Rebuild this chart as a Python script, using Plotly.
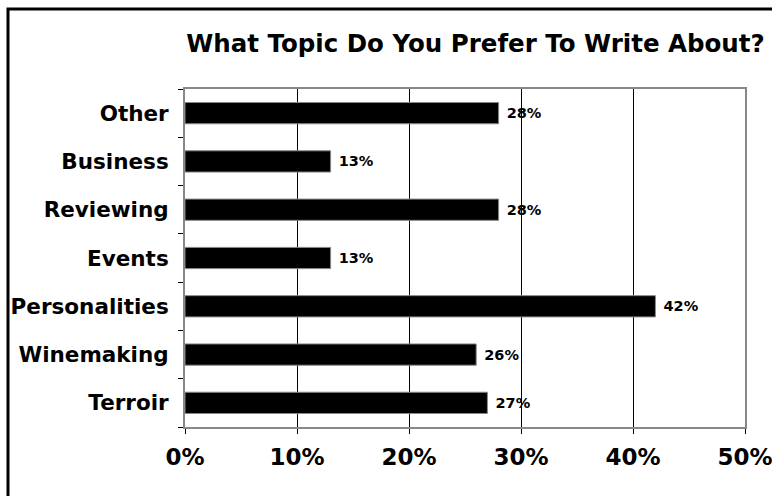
import plotly.graph_objects as go

categories = ["Terroir", "Winemaking", "Personalities", "Events", "Reviewing", "Business", "Other"]
values = [27, 26, 42, 13, 28, 13, 28]
labels = ["27%", "26%", "42%", "13%", "28%", "13%", "28%"]
x_ticks = [0, 10, 20, 30, 40, 50]
x_tick_text = ["0%", "10%", "20%", "30%", "40%", "50%"]

FONT = "DejaVu Sans, Verdana, sans-serif"

fig = go.Figure(go.Bar(
    y=categories, x=values, orientation="h",
    marker=dict(color="black", line=dict(color="#888888", width=1)),
    text=[" " + t for t in labels], textposition="outside", cliponaxis=False,
    textfont=dict(family=FONT, size=14.5, color="black", weight="bold"),
))

L, R, T, B = 185, 745, 89, 427
W, H = 772, 496
pw, ph = R - L, B - T

fig.update_layout(
    width=W, height=H,
    margin=dict(l=L, r=W - R, t=T, b=H - B, autoexpand=False),
    paper_bgcolor="white", plot_bgcolor="white",
    showlegend=False, bargap=0.56,
    title=dict(text="What Topic Do You Prefer To Write About?",
               x=475.5 / W, xanchor="center", y=1 - 43 / H, yanchor="middle",
               font=dict(family=FONT, size=24.5, color="black", weight="bold")),
    xaxis=dict(range=[0, 50], tickvals=x_ticks, ticktext=x_tick_text,
               showgrid=True, gridcolor="black", gridwidth=1,
               ticks="outside", ticklen=5, tickcolor="black",
               ticklabelstandoff=3, ticklabeloverflow="allow", automargin=False,
               showline=True, linecolor="#888888", linewidth=2, mirror=True,
               zeroline=False,
               tickfont=dict(family=FONT, size=23, color="black", weight="bold")),
    yaxis=dict(showgrid=False, ticks="outside", tickson="boundaries",
               ticklen=5, tickcolor="black", ticklabelstandoff=10, automargin=False,
               showline=True, linecolor="#888888", linewidth=2, mirror=True,
               tickfont=dict(family=FONT, size=21.5, color="black", weight="bold")),
    shapes=[dict(type="rect", xref="paper", yref="paper",
                 x0=(8 - L) / pw, x1=(790 - L) / pw,
                 y0=-(510 - B) / ph, y1=1 + (T - 9) / ph,
                 line=dict(color="black", width=3), layer="below")],
)

fig.write_html("out.html")
